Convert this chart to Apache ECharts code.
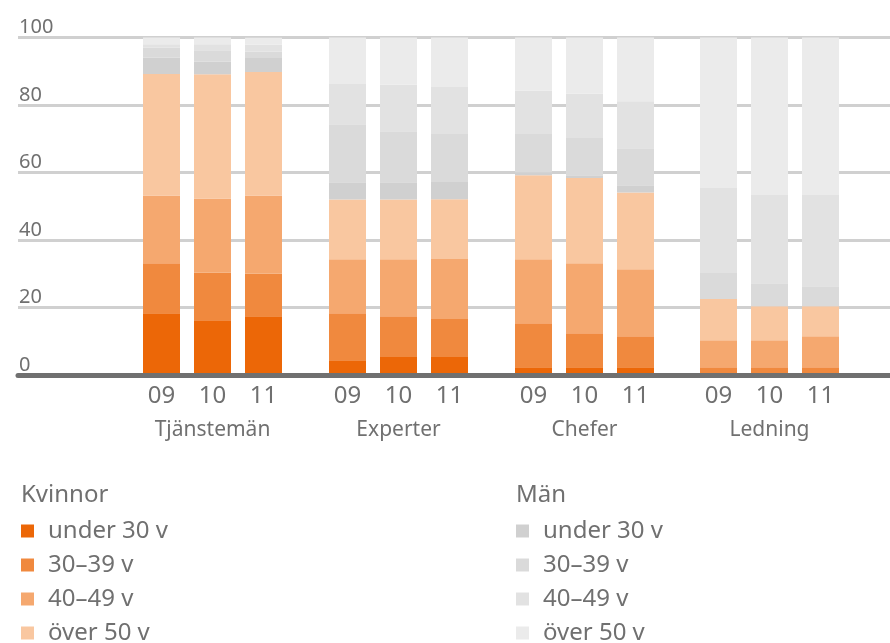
<!DOCTYPE html>
<html>
<head>
<meta charset="utf-8">
<script src="https://cdn.jsdelivr.net/npm/echarts@6/dist/echarts.min.js"></script>
<style>
  html, body { margin: 0; padding: 0; background: #ffffff; }
  #chart { width: 890px; height: 643px; }
</style>
</head>
<body>
<div id="chart"></div>
<script>
// Personnel groups and years
const groups = ['Tjänstemän', 'Experter', 'Chefer', 'Ledning'];
const years = ['09', '10', '11'];
const yTicks = [0, 20, 40, 60, 80, 100];

// Age bands shown in both legends
const ageBands = ['under 30 v', '30–39 v', '40–49 v', 'över 50 v'];

// Share in percent, per group: [09, 10, 11]
// Kvinnor (women)
const kvinnorUnder30 = [[18.3, 16.2, 17.4], [4.4, 5.3, 5.3], [2.3, 2.3, 2.3], [0, 0, 0]];
const kvinnor30_39   = [[14.8, 14.2, 12.7], [13.9, 12.1, 11.3], [13.0, 10.1, 9.2], [2.3, 2.3, 2.3]];
const kvinnor40_49   = [[20.1, 21.9, 23.1], [16.0, 16.9, 17.8], [19.0, 20.7, 19.8], [8.0, 8.0, 9.2]];
const kvinnorOver50  = [[36.0, 36.8, 36.6], [17.7, 17.7, 17.7], [24.9, 25.3, 22.8], [12.2, 10.1, 8.9]];
// Män (men)
const manUnder30 = [[4.8, 3.8, 4.1], [5.1, 5.1, 5.1], [0.9, 0.8, 2.1], [0, 0, 0]];
const man30_39   = [[3.0, 3.3, 1.9], [17.2, 15.1, 14.2], [11.3, 11.0, 11.0], [7.7, 6.8, 5.9]];
const man40_49   = [[1.0, 1.8, 2.1], [11.9, 13.9, 13.9], [12.9, 13.1, 13.9], [25.2, 26.1, 27.0]];
const manOver50  = [[2.0, 2.0, 2.0], [13.8, 13.9, 14.8], [15.7, 16.7, 18.9], [44.6, 46.7, 46.7]];

const kvinnorColors = ['#ec6707', '#f0893e', '#f5a86f', '#f9c7a0'];
const manColors = ['#d0d0d0', '#dadada', '#e2e2e2', '#ebebeb'];

const textColor = '#707070';
const fontFamily = '"Noto Sans", sans-serif';

const stackDefs = [
  { sex: 'Kvinnor', band: 0, values: kvinnorUnder30, color: kvinnorColors[0] },
  { sex: 'Kvinnor', band: 1, values: kvinnor30_39, color: kvinnorColors[1] },
  { sex: 'Kvinnor', band: 2, values: kvinnor40_49, color: kvinnorColors[2] },
  { sex: 'Kvinnor', band: 3, values: kvinnorOver50, color: kvinnorColors[3] },
  { sex: 'Män', band: 0, values: manUnder30, color: manColors[0] },
  { sex: 'Män', band: 1, values: man30_39, color: manColors[1] },
  { sex: 'Män', band: 2, values: man40_49, color: manColors[2] },
  { sex: 'Män', band: 3, values: manOver50, color: manColors[3] }
];

const plotTop = 37.5;
const plotHeight = 337.5;
const groupCenters = [212.5, 398.5, 584.5, 769.5];
const groupWidth = 153;

// Grid 0 carries the shared value axis, gridlines and baseline
const grids = [{ left: 18, right: 0, top: plotTop, height: plotHeight }];
const xAxes = [{
  gridIndex: 0, type: 'category', data: [''],
  axisLine: { show: true, lineStyle: { color: '#707070', width: 5 } },
  axisTick: { show: false }, axisLabel: { show: false }, z: 10
}];
const yAxes = [{
  gridIndex: 0, type: 'value', min: yTicks[0], max: yTicks[yTicks.length - 1], interval: 20,
  axisLine: { show: false }, axisTick: { show: false },
  splitLine: { show: true, lineStyle: { color: '#d0d0d0', width: 3 } },
  axisLabel: {
    inside: true, align: 'left', verticalAlign: 'bottom', margin: 1,
    color: textColor, fontFamily: fontFamily, fontSize: 20, padding: [0, 0, 0, 0]
  }
}];
const series = [];

groups.forEach((g, gi) => {
  const idx = gi + 1;
  grids.push({ left: groupCenters[gi] - groupWidth / 2, width: groupWidth, top: plotTop, height: plotHeight });
  xAxes.push({
    gridIndex: idx, type: 'category', data: years,
    axisLine: { show: false }, axisTick: { show: false },
    axisLabel: { color: textColor, fontFamily: fontFamily, fontSize: 24, margin: 9 },
    name: g, nameLocation: 'middle', nameGap: 45,
    nameTextStyle: { color: textColor, fontFamily: fontFamily, fontSize: 21 }
  });
  yAxes.push({
    gridIndex: idx, type: 'value', min: 0, max: 100, show: false,
    splitLine: { show: false }
  });
  stackDefs.forEach(def => {
    series.push({
      type: 'bar',
      name: def.sex + ': ' + ageBands[def.band],
      xAxisIndex: idx, yAxisIndex: idx,
      stack: 'total' + gi,
      barWidth: 37,
      itemStyle: { color: def.color },
      emphasis: { disabled: true },
      data: def.values[gi]
    });
  });
});

// One legend entry per row so the list can run past the bottom edge
const legendRowTops = [514, 548, 582, 616];
const legends = [];
[['Kvinnor', 16], ['Män', 511]].forEach(([sex, left]) => {
  ageBands.forEach((band, bi) => {
    legends.push({
      left: left, top: legendRowTops[bi], orient: 'vertical',
      icon: 'rect', itemWidth: 13, itemHeight: 13,
      selectedMode: false,
      data: [sex + ': ' + band],
      formatter: name => name.split(': ')[1],
      textStyle: { color: textColor, fontFamily: fontFamily, fontSize: 24, padding: [0, 0, 0, 9] }
    });
  });
});

const chart = echarts.init(document.getElementById('chart'), null, { renderer: 'canvas' });
chart.setOption({
  animation: false,
  backgroundColor: '#ffffff',
  title: [
    { text: 'Kvinnor', left: 16, top: 478, textStyle: { color: textColor, fontFamily: fontFamily, fontSize: 24, fontWeight: 'normal' } },
    { text: 'Män', left: 511, top: 478, textStyle: { color: textColor, fontFamily: fontFamily, fontSize: 24, fontWeight: 'normal' } }
  ],
  legend: legends,
  grid: grids,
  xAxis: xAxes,
  yAxis: yAxes,
  series: series
});
</script>
</body>
</html>
